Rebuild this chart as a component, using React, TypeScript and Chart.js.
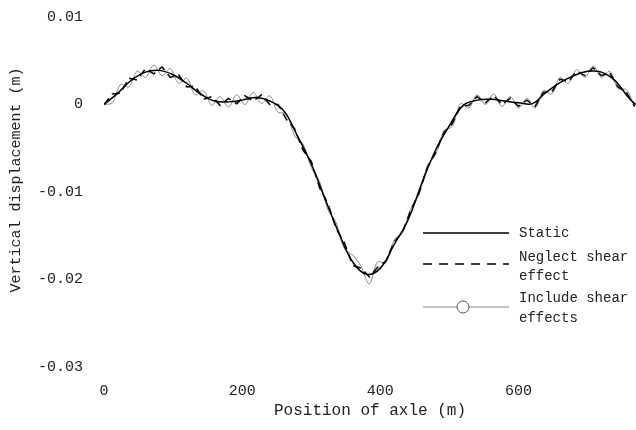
import React, { useEffect, useRef } from "react";
import Chart from "chart.js/auto";

const staticPositions = [0, 20, 40, 60, 80, 100, 120, 140, 160, 180, 200, 220, 240, 260, 280, 300, 320, 340, 360, 380, 400, 420, 440, 460, 480, 500, 520, 540, 560, 580, 600, 620, 640, 660, 680, 700, 720, 740, 760, 770];
const staticValues = [0, 0.0013, 0.0028, 0.0037, 0.0039, 0.0034, 0.0024, 0.0012, 0.0004, 0.0003, 0.0005, 0.0008, 0.0004, -0.0007, -0.0036, -0.0068, -0.0108, -0.0147, -0.018, -0.0194, -0.0187, -0.016, -0.0132, -0.009, -0.0052, -0.0024, -0.0001, 0.0005, 0.0006, 0.0004, 0.0002, 0.0001, 0.0014, 0.0025, 0.0033, 0.0038, 0.0037, 0.0027, 0.0007, 0.0];

const shearPositions = [0, 12, 24, 36, 48, 60, 72, 84, 96, 108, 120, 132, 144, 156, 168, 180, 192, 204, 216, 228, 240, 252, 264, 276, 288, 300, 312, 324, 336, 348, 360, 372, 384, 396, 408, 420, 432, 444, 456, 468, 480, 492, 504, 516, 528, 540, 552, 564, 576, 588, 600, 612, 624, 636, 648, 660, 672, 684, 696, 708, 720, 732, 744, 756, 768];
const neglectValues = [0, 0.0012, 0.0013, 0.003, 0.0028, 0.0041, 0.0035, 0.0043, 0.0031, 0.0034, 0.002, 0.0021, 0.0006, 0.0009, -0.0001, 0.0007, 0.0001, 0.001, 0.0004, 0.0011, 0.0, 0.0, -0.0017, -0.0028, -0.0052, -0.0065, -0.0095, -0.0113, -0.0142, -0.0158, -0.0184, -0.0187, -0.0197, -0.0186, -0.0179, -0.0157, -0.0146, -0.0121, -0.0101, -0.0072, -0.0055, -0.0032, -0.0022, -0.0002, -0.0001, 0.0009, 0.0002, 0.001, 0.0, 0.0007, -0.0002, 0.0005, -0.0002, 0.0014, 0.0014, 0.0029, 0.0026, 0.0038, 0.0033, 0.0042, 0.0033, 0.0036, 0.002, 0.0014, -0.0002];
const includeValues = [0, 0.0002, 0.0023, 0.002, 0.0038, 0.0031, 0.0045, 0.0033, 0.0041, 0.0024, 0.003, 0.0011, 0.0016, -0.0001, 0.0009, -0.0003, 0.0011, 0.0, 0.0014, 0.0001, 0.001, -0.0009, -0.001, -0.0036, -0.0045, -0.0072, -0.0088, -0.012, -0.0135, -0.0165, -0.0172, -0.0185, -0.0205, -0.018, -0.0181, -0.0155, -0.0147, -0.0119, -0.0103, -0.007, -0.0057, -0.003, -0.0025, 0.0001, -0.0004, 0.0011, 0.0, 0.0012, -0.0002, 0.0009, -0.0004, 0.0007, -0.0004, 0.0016, 0.0012, 0.0031, 0.0024, 0.004, 0.0031, 0.0044, 0.0031, 0.0038, 0.0018, 0.0017, -0.0003];

const xTicks = [0, 200, 400, 600];
const xTickLabels = ["0", "200", "400", "600"];
const yTicks = [-0.03, -0.02, -0.01, 0, 0.01];
const yTickLabels = ["-0.03", "-0.02", "-0.01", "0", "0.01"];

const seriesNames = ["Static", "Neglect shear effect", "Include shear effects"];
const xTitle = "Position of axle (m)";
const yTitle = "Vertical displacement (m)";

const FONT = "'Liberation Mono', 'DejaVu Sans Mono', monospace";

const legendPlugin = {
  id: "customLegend",
  afterDraw(chart: any) {
    const ctx = chart.ctx;
    ctx.save();
    // y axis title
    ctx.font = `15px ${FONT}`;
    ctx.fillStyle = "#222";
    ctx.textAlign = "center";
    ctx.textBaseline = "middle";
    ctx.save();
    ctx.translate(16, 180);
    ctx.rotate(-Math.PI / 2);
    ctx.fillText(yTitle, 0, 0);
    ctx.restore();

    ctx.font = `14px ${FONT}`;
    ctx.textAlign = "left";
    const x0 = 423;
    const x1 = 509;
    const tx = 519;
    // Static
    ctx.strokeStyle = "#000";
    ctx.lineWidth = 1.3;
    ctx.setLineDash([]);
    ctx.beginPath();
    ctx.moveTo(x0, 233);
    ctx.lineTo(x1, 233);
    ctx.stroke();
    ctx.fillText("Static", tx, 233);
    // Neglect
    ctx.setLineDash([9, 7]);
    ctx.lineWidth = 1.5;
    ctx.beginPath();
    ctx.moveTo(x0, 264);
    ctx.lineTo(x1, 264);
    ctx.stroke();
    ctx.setLineDash([]);
    ctx.fillText("Neglect shear", tx, 257);
    ctx.fillText("effect", tx, 276);
    // Include
    ctx.strokeStyle = "#8a8a8a";
    ctx.lineWidth = 1;
    ctx.beginPath();
    ctx.moveTo(x0, 307);
    ctx.lineTo(x1, 307);
    ctx.stroke();
    ctx.beginPath();
    ctx.arc(463, 307, 6, 0, Math.PI * 2);
    ctx.fillStyle = "#fff";
    ctx.fill();
    ctx.strokeStyle = "#555";
    ctx.stroke();
    ctx.fillStyle = "#222";
    ctx.fillText("Include shear", tx, 298);
    ctx.fillText("effects", tx, 318);
    ctx.restore();
  },
};

export default function App() {
  const ref = useRef<HTMLCanvasElement | null>(null);
  useEffect(() => {
    if (!ref.current) return;
    const mk = (xs: number[], ys: number[]) => xs.map((x, i) => ({ x, y: ys[i] }));
    const chart = new Chart(ref.current, {
      type: "line",
      data: {
        datasets: [
          {
            label: seriesNames[0],
            data: mk(staticPositions, staticValues),
            borderColor: "#000",
            borderWidth: 1.5,
            pointRadius: 0,
            tension: 0.4,
            fill: false,
          },
          {
            label: seriesNames[1],
            data: mk(shearPositions, neglectValues),
            borderColor: "#111",
            borderWidth: 1.6,
            borderDash: [8, 5],
            pointRadius: 0,
            tension: 0,
            fill: false,
          },
          {
            label: seriesNames[2],
            data: mk(shearPositions, includeValues),
            borderColor: "#8a8a8a",
            borderWidth: 1,
            pointRadius: 0,
            tension: 0.35,
            fill: false,
          },
        ],
      },
      options: {
        animation: false,
        responsive: false,
        maintainAspectRatio: false,
        devicePixelRatio: 1,
        layout: { padding: { left: 0, right: 0, top: 17, bottom: 0 } },
        plugins: { legend: { display: false }, tooltip: { enabled: false } },
        scales: {
          x: {
            type: "linear",
            min: 0,
            max: 770,
            grid: { display: false, drawTicks: false },
            border: { display: false },
            afterBuildTicks: (s: any) => {
              s.ticks = xTicks.map((v) => ({ value: v }));
            },
            afterFit: (s: any) => {
              s.height = 63;
              s.paddingLeft = 0;
              s.paddingRight = 0;
            },
            ticks: {
              padding: 15,
              maxRotation: 0,
              color: "#222",
              font: { family: FONT, size: 15 },
              callback: (_v: any, i: number) => xTickLabels[i],
            },
            title: {
              display: true,
              text: xTitle,
              color: "#222",
              font: { family: FONT, size: 16 },
              padding: { top: 0, bottom: 10 },
            },
          },
          y: {
            type: "linear",
            min: -0.03,
            max: 0.01,
            grid: { display: false, drawTicks: false },
            border: { display: false },
            afterBuildTicks: (s: any) => {
              s.ticks = yTicks.map((v) => ({ value: v }));
            },
            afterFit: (s: any) => {
              s.width = 104;
              s.paddingTop = 0;
              s.paddingBottom = 0;
            },
            ticks: {
              padding: 21,
              color: "#222",
              font: { family: FONT, size: 15 },
              callback: (_v: any, i: number) => yTickLabels[i],
            },
            title: { display: false },
          },
        },
      },
      plugins: [legendPlugin],
    });
    return () => chart.destroy();
  }, []);
  return (
    <div style={{ position: "fixed", left: 0, top: 0, width: 636, height: 430, background: "#fff" }}>
      <canvas ref={ref} width={636} height={430} style={{ width: 636, height: 430, display: "block" }} />
    </div>
  );
}
